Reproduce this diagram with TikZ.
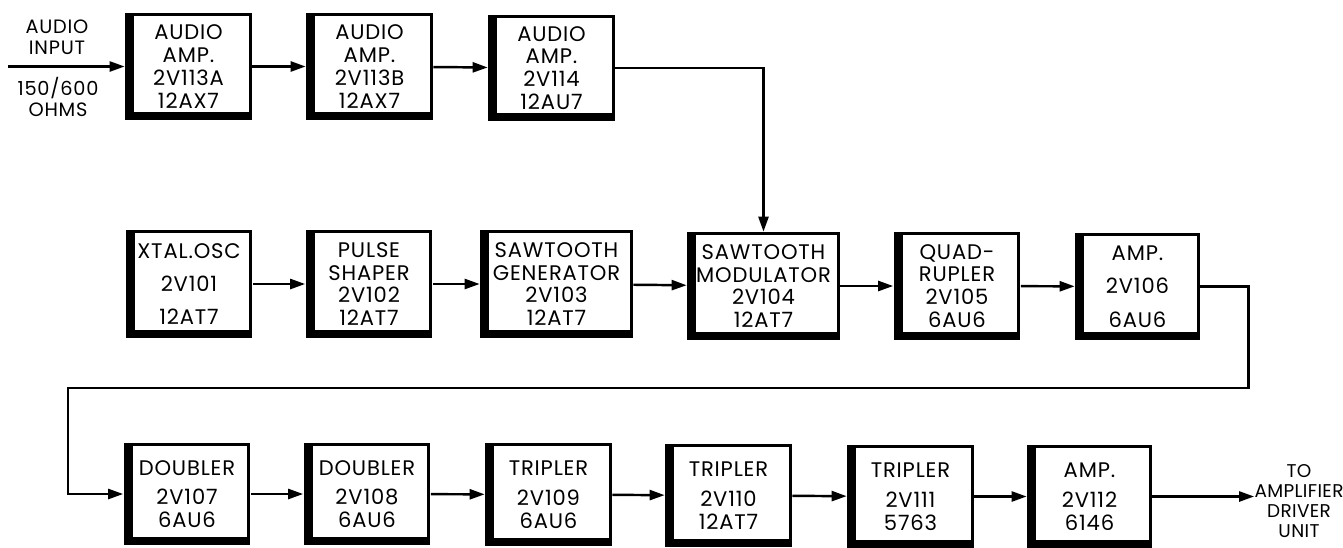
\documentclass[tikz,border=0pt]{standalone}
\usepackage{fontspec}
\setmainfont{Poppins}[LetterSpace=4]
\usetikzlibrary{arrows.meta,calc,positioning}

\tikzset{
  tube/.style={fill=black, minimum width=2.54cm, minimum height=2.14cm,
    inner sep=0pt, align=center, font=\fontsize{12}{13}\selectfont,
    path picture={\fill[white]
      ([xshift=0.18cm,yshift=0.16cm]path picture bounding box.south west) rectangle
      ([xshift=-0.06cm,yshift=-0.06cm]path picture bounding box.north east);}},
  widebox/.style={minimum width=3.06cm},
  lowbox/.style={minimum height=2.06cm},
  flow/.style={line width=1.4pt, -{Triangle[length=0.3cm,width=0.2cm]}},
  wire/.style={line width=1.4pt},
  lbl/.style={align=center, inner sep=0pt, font=\fontsize{11}{12}\selectfont},
}

\begin{document}
\begin{tikzpicture}[x=0.02cm,y=-0.02cm]
\useasboundingbox (0,0) rectangle (1343,548);

% audio chain
\node[tube] (a1) at (188.5,66.5) {AUDIO\\AMP.\\2V113A\\12AX7};
\node[tube] (a2) at (369.5,66.5) {AUDIO\\AMP.\\2V113B\\12AX7};
\node[tube] (a3) at (551.5,68) {AUDIO\\AMP.\\2V114\\12AU7};

% rf chain
\node[tube,minimum height=2.16cm] (xtal) at (189,284) {XTAL.OSC\\[6pt]2V101\\[6pt]12AT7};
\node[tube,minimum height=2.16cm] (pulse) at (369,284) {PULSE\\SHAPER\\2V102\\12AT7};
\node[tube,widebox,minimum height=2.16cm] (sawgen) at (556.5,284) {SAWTOOTH\\GENERATOR\\2V103\\12AT7};
\node[tube,widebox,minimum height=2.16cm] (sawmod) at (763.5,286) {SAWTOOTH\\MODULATOR\\2V104\\12AT7};
\node[tube,minimum height=2.16cm] (quad) at (957,286) {QUAD-\\RUPLER\\2V105\\6AU6};
\node[tube,minimum width=2.5cm,minimum height=2.16cm] (amp106) at (1137.5,286.5) {AMP.\\[6pt]2V106\\[6pt]6AU6};

% multiplier chain
\node[tube,lowbox] (dbl1) at (187,494) {DOUBLER\\[4pt]2V107\\6AU6};
\node[tube,lowbox] (dbl2) at (367,494) {DOUBLER\\[4pt]2V108\\6AU6};
\node[tube,lowbox] (tri1) at (548.5,494.5) {TRIPLER\\[4pt]2V109\\6AU6};
\node[tube,lowbox] (tri2) at (728.5,495.5) {TRIPLER\\[4pt]2V110\\12AT7};
\node[tube,lowbox] (tri3) at (910.5,496.5) {TRIPLER\\[4pt]2V111\\5763};
\node[tube,lowbox,minimum width=2.5cm] (amp112) at (1089.5,496.5) {AMP.\\[4pt]2V112\\6146};

% input and output
\coordinate (in) at (8,66.5);
\node[lbl] (inname) at (57,37) {AUDIO\\INPUT};
\node[lbl] (inohms) at (58,97) {150/600\\OHMS};
\node[lbl,font=\fontsize{10.5}{11.5}\selectfont\addfontfeature{LetterSpace=2}] (out) at (1299,501) {TO\\AMPLIFIER\\DRIVER\\UNIT};

\draw[flow] (in) -- (a1);
\draw[flow] (a1) -- (a2);
\draw[flow] (a2) -- (a3);
\draw[flow] (a3.east) -| (sawmod.north);

\draw[flow] (xtal) -- (pulse);
\draw[flow] (pulse) -- (sawgen);
\draw[flow] (sawgen) -- (sawmod);
\draw[flow] (sawmod) -- (quad);
\draw[flow] (quad) -- (amp106);

\coordinate (turn) at (68,388);
\draw[flow] (amp106.east) -- ++(48,0) |- (turn) |- (dbl1.west);

\draw[flow] (dbl1) -- (dbl2);
\draw[flow] (dbl2) -- (tri1);
\draw[flow] (tri1) -- (tri2);
\draw[flow] (tri2) -- (tri3);
\draw[flow] (tri3) -- (amp112);
\draw[flow] (amp112.east) -- (amp112.east -| out.west);
\end{tikzpicture}
\end{document}
